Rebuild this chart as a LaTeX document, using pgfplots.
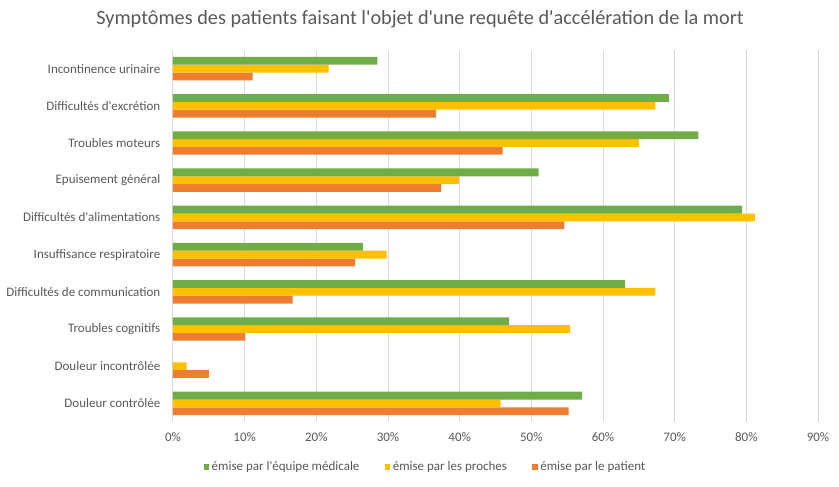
\documentclass[border=0pt]{standalone}
\usepackage{fontspec}
\setmainfont{Carlito}[Ligatures=TeXOff]
\usepackage{pgfplots}
\pgfplotsset{compat=1.18}
\usetikzlibrary{calc}
\definecolor{cgreen}{HTML}{70AD47}
\definecolor{cyellow}{HTML}{FFC000}
\definecolor{corange}{HTML}{ED7D31}
\definecolor{textgray}{HTML}{595959}
\definecolor{gridgray}{HTML}{D9D9D9}
\begin{document}
\begin{tikzpicture}
\begin{axis}[
  scale only axis, width=483.75pt, height=279pt,
  xbar=0pt, bar width=0.21,
  xmin=0, xmax=90, ymin=-0.5, ymax=9.5,
  xtick={0,10,...,90},
  xticklabel={\pgfmathprintnumber{\tick}\%},
  ytick={0,...,9},
  yticklabels={Douleur contrôlée, Douleur incontrôlée, Troubles cognitifs, Difficultés de communication, Insuffisance respiratoire, Difficultés d'alimentations, Epuisement général, Troubles moteurs, Difficultés d'excrétion, Incontinence urinaire},
  xmajorgrids, grid style={draw=gridgray, line width=0.75pt},
  axis line style={draw=none},
  major tick length=0pt,
  tick label style={font=\fontsize{9.75}{12}\selectfont, text=textgray},
  /pgf/number format/assume math mode=true,
  xticklabel style={yshift=-4.5pt},
  yticklabel style={xshift=-6pt},
  title={Symptômes des patients faisant l'objet d'une requête d'accélération de la mort},
  title style={at={(0.383,1.062)}, anchor=center, yshift=0pt, font=\fontsize{15.2}{18}\selectfont, text=textgray},
  legend style={at={(0.392,-0.121)}, anchor=center, draw=none, legend columns=3,
    font=\fontsize{9.75}{12}\selectfont, text=textgray,
    /tikz/every even column/.append style={column sep=17pt}},
  reverse legend,
  legend image code/.code={\fill[#1] (0pt,-1.9pt) rectangle (4pt,2.1pt);},
]
\addplot[fill=corange, draw=none] coordinates {
(55.2,0) (5.0,1) (10.1,2) (16.7,3) (25.4,4) (54.6,5) (37.4,6) (46.0,7) (36.7,8) (11.1,9)};
\addplot[fill=cyellow, draw=none] coordinates {
(45.7,0) (1.9,1) (55.4,2) (67.3,3) (29.8,4) (81.2,5) (39.9,6) (65.0,7) (67.3,8) (21.7,9)};
\addplot[fill=cgreen, draw=none] coordinates {
(57.1,0) (0,1) (46.9,2) (63.1,3) (26.5,4) (79.4,5) (51.0,6) (73.3,7) (69.2,8) (28.5,9)};
\legend{émise par le patient, émise par les proches, émise par l'équipe médicale}
\end{axis}
\path ($(current axis.south west)+(-129.75pt,-48pt)$) rectangle ($(current axis.north east)+(15.75pt,37.5pt)$);
\end{tikzpicture}
\end{document}
